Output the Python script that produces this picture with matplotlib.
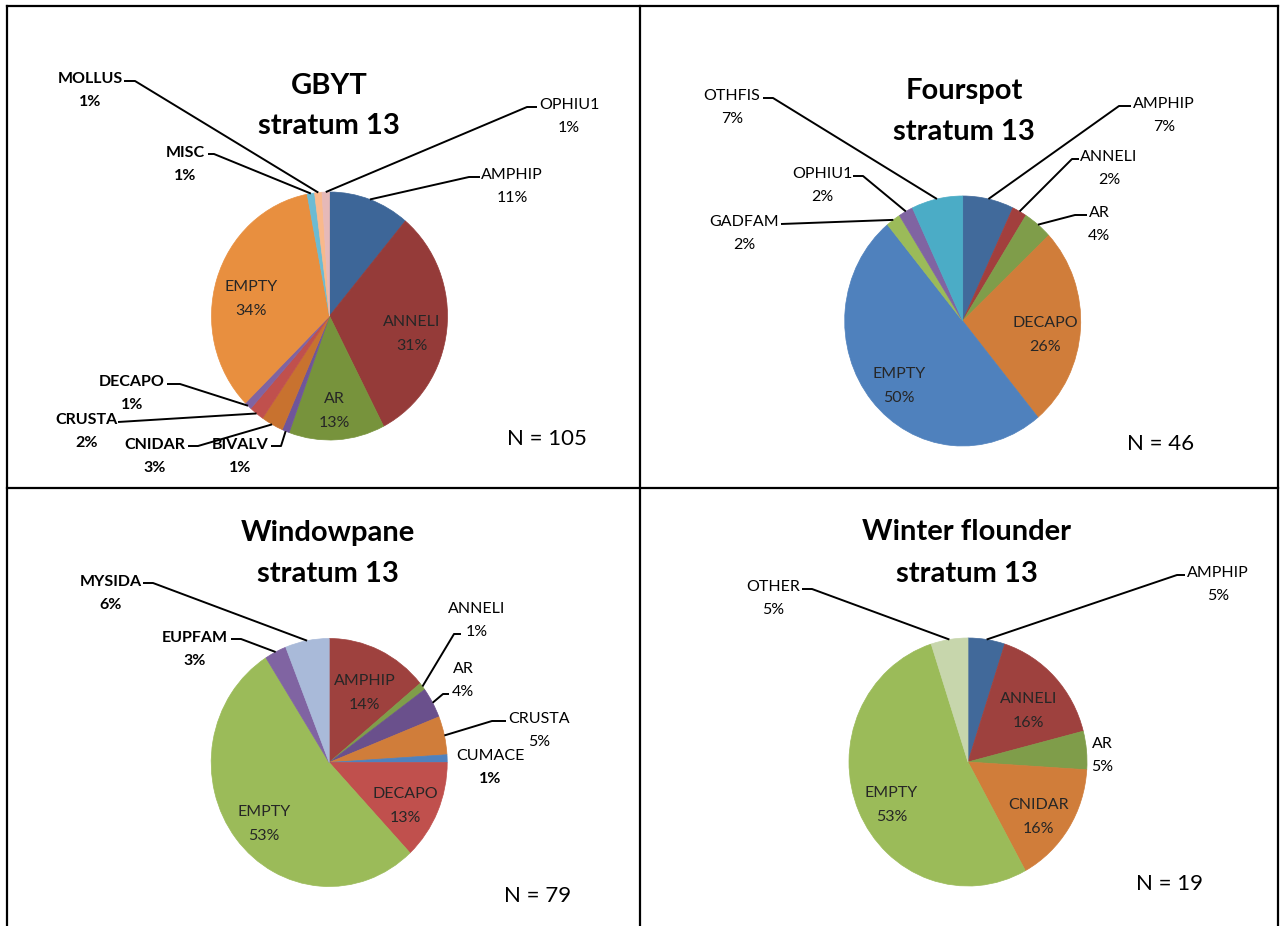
import matplotlib
matplotlib.use("Agg")
import matplotlib.pyplot as plt
import numpy as np

plt.rcParams["font.family"] = ["Lato", "DejaVu Sans"]

W, H = 1282, 926
DPI = 100

# diet composition, % of stomachs examined
gbyt_cats = ["AMPHIP", "ANNELI", "AR", "BIVALV", "CNIDAR", "CRUSTA", "DECAPO",
             "EMPTY", "MISC", "MOLLUS", "OPHIU1"]
gbyt_pct = [11, 31, 13, 1, 3, 2, 1, 34, 1, 1, 1]
gbyt_n = 105

four_cats = ["AMPHIP", "ANNELI", "AR", "DECAPO", "EMPTY", "GADFAM", "OPHIU1", "OTHFIS"]
four_pct = [7, 2, 4, 26, 50, 2, 2, 7]
four_n = 46

wind_cats = ["AMPHIP", "ANNELI", "AR", "CRUSTA", "CUMACE", "DECAPO", "EMPTY",
             "EUPFAM", "MYSIDA"]
wind_pct = [14, 1, 4, 5, 1, 13, 53, 3, 6]
wind_n = 79

wint_cats = ["AMPHIP", "ANNELI", "AR", "CNIDAR", "EMPTY", "OTHER"]
wint_pct = [5, 16, 5, 16, 53, 5]
wint_n = 19

# slice colours (Office palette)
gbyt_colors = ["#3D6698", "#953B39", "#77933C", "#6F559A", "#C8722F", "#C0504D",
               "#8064A2", "#E88F3F", "#6BBBD3", "#F9B98C", "#E6B9B8"]
four_colors = ["#416A9B", "#A23F3D", "#7F9D4A", "#D07D3A", "#4F81BD", "#9BBB59",
               "#8064A2", "#4BACC6"]
wind_colors = ["#9E413E", "#7F9D4A", "#6A508C", "#D07D3A", "#4F81BD", "#C0504D",
               "#9BBB59", "#8064A2", "#A9BAD9"]
wint_colors = ["#41699A", "#9E413E", "#7F9D4A", "#D07D3A", "#9BBB59", "#C7D6AC"]

# layout, in pixels: pie centre + radii, title, N label, outside labels
# outside label: (x, y of name line, (bold name, bold pct), leader start, leader knee)
panels = [
    dict(title="GBYT", cats=gbyt_cats, pct=gbyt_pct, n=gbyt_n, colors=gbyt_colors,
         pie=(329.5, 316, 118, 124), title_xy=(329, 83), n_xy=(547, 437),
         inside=["ANNELI", "AR", "EMPTY"],
         outside={
             "MOLLUS": (90, 77, (True, True), (124, 81), (135, 81)),
             "MISC": (185, 151, (True, True), (208, 154), (214, 154)),
             "OPHIU1": (569, 103, (False, False), (537, 107), (527, 107)),
             "AMPHIP": (512, 173, (False, False), (480, 177), (469, 177)),
             "DECAPO": (132, 380, (True, True), (167, 384), (180, 384)),
             "CRUSTA": (87, 418, (True, True), (118, 422), (118, 422)),
             "CNIDAR": (155, 443, (True, True), (188, 446), (198, 446)),
             "BIVALV": (240, 443, (True, True), (271, 446), (281, 446)),
         }),
    dict(title="Fourspot", cats=four_cats, pct=four_pct, n=four_n, colors=four_colors,
         pie=(962.7, 321, 118, 125), title_xy=(964, 89), n_xy=(1161, 442),
         inside=["DECAPO", "EMPTY"],
         outside={
             "OTHFIS": (732, 94, (False, False), (763, 98), (773, 98)),
             "OPHIU1": (822, 172, (False, False), (853, 176), (863, 176)),
             "GADFAM": (744, 220, (False, False), (781, 224), (781, 224)),
             "AMPHIP": (1164, 102, (False, False), (1131, 106), (1119, 106)),
             "ANNELI": (1109, 155, (False, False), (1079, 159), (1072, 159)),
             "AR": (1099, 211, (False, False), (1087, 215), (1075, 215)),
         }),
    dict(title="Windowpane", cats=wind_cats, pct=wind_pct, n=wind_n, colors=wind_colors,
         pie=(329.2, 762.5, 118, 124), title_xy=(328, 531), n_xy=(538, 894),
         inside=["AMPHIP", "DECAPO", "EMPTY"],
         outside={
             "MYSIDA": (111, 580, (True, True), (143, 583), (153, 583)),
             "EUPFAM": (195, 636, (True, True), (231, 639), (241, 639)),
             "ANNELI": (477, 607, (False, False), (461, 634), (454, 634)),
             "AR": (463, 667, (False, False), (449, 694), (443, 694)),
             "CRUSTA": (539, 717, (False, False), (506, 721), (492, 721)),
             "CUMACE": (490, 754, (False, True), None, None),
         }),
    dict(title="Winter flounder", cats=wint_cats, pct=wint_pct, n=wint_n, colors=wint_colors,
         pie=(968, 762, 119, 124), title_xy=(967, 530), n_xy=(1170, 882),
         inside=["ANNELI", "CNIDAR", "EMPTY"],
         outside={
             "OTHER": (773, 585, (False, False), (802, 589), (812, 589)),
             "AMPHIP": (1218, 571, (False, False), (1185, 575), (1177, 575)),
             "AR": (1102, 742, (False, False), None, None),
         }),
]

fig = plt.figure(figsize=(W / DPI, H / DPI), dpi=DPI)
fig.patch.set_facecolor("white")

ov = fig.add_axes([0, 0, 1, 1])
ov.set_xlim(0, W)
ov.set_ylim(H, 0)
ov.axis("off")
ov.set_zorder(10)


def put(x, y, s, size, bold=False, color="black"):
    # y is the vertical centre of the capitals
    base = y + 0.36 * size * DPI / 72
    ov.text(x, base, s, fontsize=size, ha="center", va="baseline", color=color,
            fontweight="bold" if bold else "normal")


for p in panels:
    cx, cy, rx, ry = p["pie"]
    k = 1.03
    pax = fig.add_axes([(cx - rx * k) / W, 1 - (cy + ry * k) / H,
                        2 * rx * k / W, 2 * ry * k / H])
    wedges, _ = pax.pie(p["pct"], colors=p["colors"], startangle=90, counterclock=False,
                        wedgeprops=dict(linewidth=0.5))
    for w, c in zip(wedges, p["colors"]):
        w.set_edgecolor(c)
    pax.set_aspect("auto")
    pax.set_xlim(-k, k)
    pax.set_ylim(-k, k)
    pax.axis("off")

    def at(i, f):
        m = np.deg2rad((wedges[i].theta1 + wedges[i].theta2) / 2)
        return cx + f * rx * np.cos(m), cy - f * ry * np.sin(m)

    # title
    tx, ty = p["title_xy"]
    put(tx, ty, p["title"], 21, bold=True)
    put(tx, ty + 41, "stratum 13", 21, bold=True)

    # N label
    put(p["n_xy"][0], p["n_xy"][1], f"N = {p['n']}", 16)

    for i, (cat, v) in enumerate(zip(p["cats"], p["pct"])):
        if cat in p["inside"]:
            x, y = at(i, 0.7)
            y += 7
            put(x, y - 12, cat, 11.5, color="#262626")
            put(x, y + 12, f"{v}%", 11.5, color="#262626")
        elif cat in p["outside"]:
            lx, ly, (bn, bp), start, knee = p["outside"][cat]
            put(lx, ly, cat, 11.5, bold=bn)
            put(lx, ly + 23, f"{v}%", 11.5, bold=bp)
            if start is not None:
                ex, ey = at(i, 1.0)
                ov.plot([start[0], knee[0], ex], [start[1], knee[1], ey],
                        color="black", lw=1.4, solid_capstyle="butt")

# table grid
grid = dict(color="black", lw=1.6)
ov.plot([7, 1278], [6, 6], **grid)
ov.plot([7, 1278], [488, 488], **grid)
ov.plot([7, 7], [6, H], **grid)
ov.plot([640, 640], [6, H], **grid)
ov.plot([1278, 1278], [6, H], **grid)

fig.savefig("out.png", dpi=DPI, facecolor="white")
